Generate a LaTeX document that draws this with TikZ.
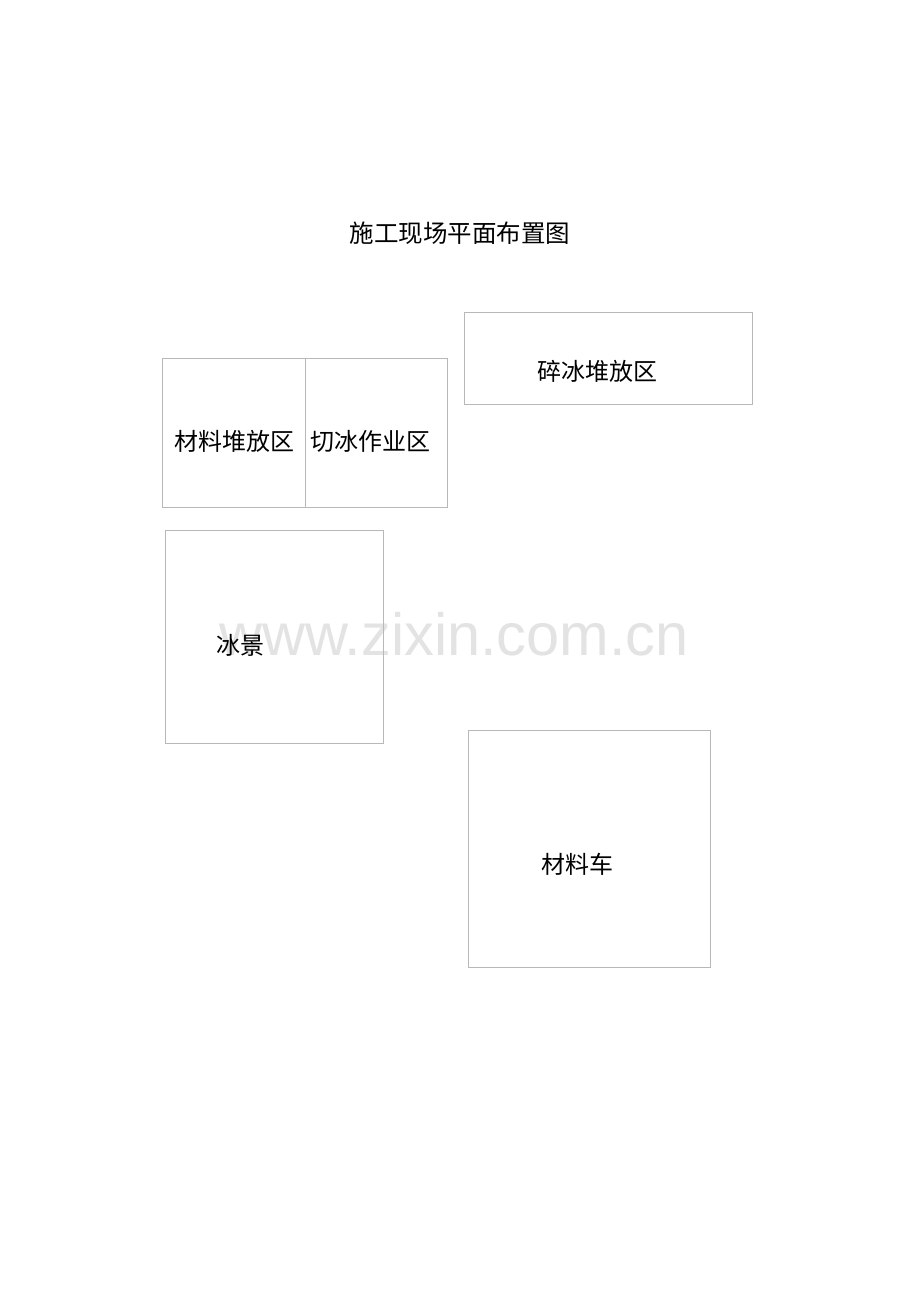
\documentclass[tikz,border=0pt]{standalone}
\usepackage{fontspec}
\newfontfamily\cjk{Noto Sans CJK SC}
\newfontfamily\wmfont{Liberation Sans}
\begin{document}
\begin{tikzpicture}[x=1pt,y=-1pt,
  zone/.style={draw=black!28,line width=0.9pt},
  lbl/.style={font=\cjk\fontsize{24}{27}\selectfont,inner sep=0pt,text=black}]
\useasboundingbox[fill=white] (0,0) rectangle (920,1302);
% watermark
\node[font=\wmfont\fontsize{59.5}{62}\selectfont,text=black!11,anchor=base west,inner sep=0pt] (wm) at (219,655) {www.zixin.com.cn};
% title
\node[lbl,font=\cjk\fontsize{24.5}{27}\selectfont] (title) at (460,233) {施工现场平面布置图};
% boxes
\draw[zone] (162,358) rectangle (305,507);
\draw[zone] (305,358) rectangle (447,507);
\draw[zone] (464,312) rectangle (752,404);
\draw[zone] (165,530) rectangle (383,743);
\draw[zone] (468,730) rectangle (710,967);
% labels
\node[lbl] (a) at (234,441) {材料堆放区};
\node[lbl] (b) at (370,441) {切冰作业区};
\node[lbl] (c) at (597,371) {碎冰堆放区};
\node[lbl] (d) at (240,645) {冰景};
\node[lbl] (e) at (577,864) {材料车};
\end{tikzpicture}
\end{document}
